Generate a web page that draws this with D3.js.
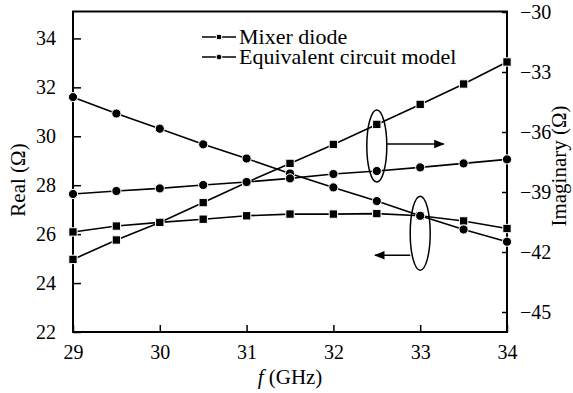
<!doctype html>
<html>
  <head>
    <meta charset="utf-8">
    <script src="https://d3js.org/d3.v7.min.js"></script>
    <style>
      body { margin: 0; background: #fff; }
      text { font-family: "Liberation Serif", "DejaVu Serif", serif; fill: #000; }
    </style>
  </head>
  <body>
    <script>
    // frequency points (GHz)
    var freq = [29, 29.5, 30, 30.5, 31, 31.5, 32, 32.5, 33, 33.5, 34];

    // real part (left axis)
    var realDiode = [26.09, 26.33, 26.48, 26.61, 26.75, 26.82, 26.82, 26.84, 26.75, 26.54, 26.23];
    var realModel = [31.60, 30.93, 30.31, 29.67, 29.09, 28.48, 27.91, 27.35, 26.75, 26.19, 25.69];

    // imaginary part (right axis)
    var imagDiode = [-42.37, -41.40, -40.52, -39.53, -38.52, -37.57, -36.62, -35.62, -34.62, -33.60, -32.50];
    var imagModel = [-39.10, -38.95, -38.82, -38.65, -38.50, -38.32, -38.10, -37.95, -37.77, -37.57, -37.37];

    var xTicks = [29, 30, 31, 32, 33, 34];
    var leftTicks = [22, 24, 26, 28, 30, 32, 34];
    var rightTicks = [-45, -42, -39, -36, -33, -30];
    var legendNames = ["Mixer  diode", "Equivalent circuit model"];

    var width = 573;
    var height = 393;

    var x = d3.scaleLinear().domain([29, 34]).range([73, 507]);
    var yL = d3.scaleLinear().domain([22, 35.1]).range([332, 11.5]);
    var yR = d3.scaleLinear().domain([-46, -30]).range([332, 12]);

    var svg = d3.select("body")
              .append("svg")
              .attr("width", width)
              .attr("height", height);

    // axes, ticks inward
    svg.append("g")
      .attr("transform", "translate(0,332)")
      .call(d3.axisBottom(x).tickValues(xTicks).tickSizeInner(-7).tickSizeOuter(0).tickPadding(13).tickFormat(d3.format("d")));

    svg.append("g")
      .attr("transform", "translate(73,0)")
      .call(d3.axisLeft(yL).tickValues(leftTicks).tickSizeInner(-8).tickSizeOuter(0).tickPadding(17).tickFormat(d3.format("d")));

    svg.append("g")
      .attr("transform", "translate(507,0)")
      .call(d3.axisRight(yR).tickValues(rightTicks).tickSizeInner(-5).tickSizeOuter(0).tickPadding(13).tickFormat(d3.format("d")));

    svg.selectAll(".domain").remove();
    svg.selectAll(".tick line").attr("stroke", "#000").attr("stroke-width", 1.5);
    svg.selectAll(".tick text")
      .attr("font-family", "Liberation Serif")
      .attr("font-size", 20)
      .attr("fill", "#000");

    // frame
    svg.append("rect")
      .attr("x", 73)
      .attr("y", 11.5)
      .attr("width", 434)
      .attr("height", 320.5)
      .attr("fill", "none")
      .attr("stroke", "#000")
      .attr("stroke-width", 2);

    var series = [
      { vals: realDiode, y: yL, shape: "square" },
      { vals: realModel, y: yL, shape: "circle" },
      { vals: imagDiode, y: yR, shape: "square" },
      { vals: imagModel, y: yR, shape: "circle" }
    ];

    series.forEach(function(s) {
      var pts = freq.map(function(f, i) { return [f, s.vals[i]]; });
      var line = d3.line()
        .x(function(d) { return x(d[0]); })
        .y(function(d) { return s.y(d[1]); });

      svg.append("path")
        .datum(pts)
        .attr("d", line)
        .attr("fill", "none")
        .attr("stroke", "#000")
        .attr("stroke-width", 1.6);

      var sym = s.shape == "square" ? d3.symbolSquare : d3.symbolCircle;
      svg.append("g").selectAll("path")
        .data(pts)
        .enter()
        .append("path")
        .attr("d", d3.symbol().type(sym).size(s.shape == "square" ? 70 : 66))
        .attr("transform", function(d) { return "translate(" + x(d[0]) + "," + s.y(d[1]) + ")"; })
        .attr("fill", "#000")
        .attr("stroke", "#fff")
        .attr("stroke-width", 1);
    });

    // legend
    var legend = svg.append("g");
    legendNames.forEach(function(name, i) {
      var ly = 37 + i * 20;
      legend.append("line")
        .attr("x1", 202).attr("x2", 236)
        .attr("y1", ly).attr("y2", ly)
        .attr("stroke", "#000")
        .attr("stroke-width", 1.4);
      legend.append("path")
        .attr("d", d3.symbol().type(i == 0 ? d3.symbolSquare : d3.symbolCircle).size(i == 0 ? 28 : 26))
        .attr("transform", "translate(219," + ly + ")")
        .attr("fill", "#000")
        .attr("stroke", "#fff")
        .attr("stroke-width", 1);
      legend.append("text")
        .attr("x", 239)
        .attr("y", ly + 7)
        .attr("font-size", 22)
        .text(name);
    });

    // ellipse annotations
    svg.append("defs").append("marker")
      .attr("id", "arr")
      .attr("viewBox", "0 0 10 10")
      .attr("refX", 9)
      .attr("refY", 5)
      .attr("markerWidth", 7)
      .attr("markerHeight", 7)
      .attr("orient", "auto")
      .append("path")
      .attr("d", "M0,1 L10,5 L0,9 Z")
      .attr("fill", "#000");

    svg.append("ellipse")
      .attr("cx", x(32.5))
      .attr("cy", yR(-36.7))
      .attr("rx", 10)
      .attr("ry", 36)
      .attr("fill", "none")
      .attr("stroke", "#000")
      .attr("stroke-width", 1.5);

    svg.append("line")
      .attr("x1", x(32.5) + 10)
      .attr("y1", yR(-36.6))
      .attr("x2", x(33.27))
      .attr("y2", yR(-36.6))
      .attr("stroke", "#000")
      .attr("stroke-width", 1.5)
      .attr("marker-end", "url(#arr)");

    svg.append("ellipse")
      .attr("cx", x(33))
      .attr("cy", yL(26.04))
      .attr("rx", 10)
      .attr("ry", 37)
      .attr("fill", "none")
      .attr("stroke", "#000")
      .attr("stroke-width", 1.5);

    svg.append("line")
      .attr("x1", x(33) - 10)
      .attr("y1", yL(25.14))
      .attr("x2", x(32.48))
      .attr("y2", yL(25.14))
      .attr("stroke", "#000")
      .attr("stroke-width", 1.5)
      .attr("marker-end", "url(#arr)");

    // axis titles
    var xt = svg.append("text")
      .attr("x", 290)
      .attr("y", 384)
      .attr("text-anchor", "middle")
      .attr("font-size", 21);
    xt.append("tspan").attr("font-style", "italic").text("f");
    xt.append("tspan").text(" (GHz)");

    svg.append("text")
      .attr("transform", "translate(25,180) rotate(-90)")
      .attr("text-anchor", "middle")
      .attr("font-size", 21)
      .text("Real (Ω)");

    svg.append("text")
      .attr("transform", "translate(566,166) rotate(-90)")
      .attr("text-anchor", "middle")
      .attr("font-size", 21)
      .text("Imaginary (Ω)");
    </script>
  </body>
</html>
